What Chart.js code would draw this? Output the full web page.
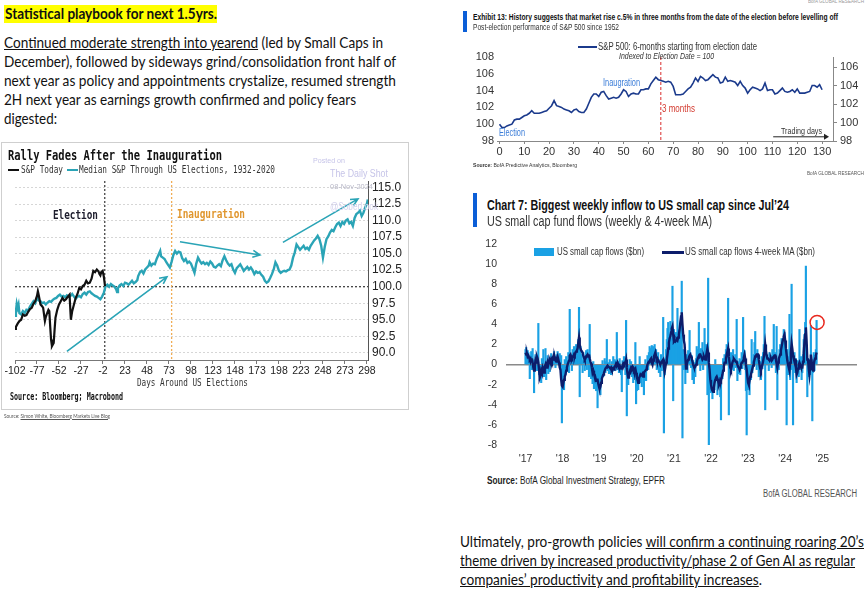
<!DOCTYPE html>
<html><head><meta charset="utf-8">
<script src="https://cdn.jsdelivr.net/npm/chart.js@4.4.1/dist/chart.umd.min.js"></script>
<style>
html,body{margin:0;padding:0;}
body{width:866px;height:605px;position:relative;background:#fff;overflow:hidden;font-family:Lato,"Open Sans",sans-serif;}
.t{position:absolute;white-space:nowrap;transform-origin:0 50%;line-height:1.15;}
canvas{position:absolute;}
.sw{position:absolute;}
</style></head><body>
<div class="sw" style="left:4px;top:5px;width:213px;height:18px;background:#ffff00"></div>
<div class="sw" style="left:1px;top:142px;width:406px;height:266px;border:1px solid #cfcfcf"></div>
<div class="sw" style="left:8px;top:169px;width:11px;height:2px;background:#111"></div>
<div class="sw" style="left:67px;top:169px;width:11px;height:2px;background:#2aa4b6"></div>
<div class="sw" style="left:463px;top:11px;width:4px;height:21px;background:#0b5ed7"></div>
<div class="sw" style="left:578px;top:46px;width:19px;height:2px;background:#1b3a8c"></div>
<div class="sw" style="left:473px;top:193px;width:4px;height:34px;background:#0b5ed7"></div>
<div class="sw" style="left:534px;top:248px;width:20px;height:8px;background:#1aa1e4"></div>
<div class="sw" style="left:662px;top:251px;width:22px;height:3px;background:#0c1d6b"></div>
<canvas id="c1" width="410" height="224" style="left:0;top:156px;width:410px;height:224px"></canvas>
<canvas id="c2" width="406" height="130" style="left:460px;top:30px;width:406px;height:130px"></canvas>
<canvas id="c3" width="406" height="245" style="left:460px;top:220px;width:406px;height:245px"></canvas>
<script>
// ---------- Chart 1: Rally Fades After the Inauguration ----------
const dayTicks = [-102,-77,-52,-27,-2,23,48,73,98,123,148,173,198,223,248,273,298];
const indexTicks = [90,92.5,95,97.5,100,102.5,105,107.5,110,112.5,115];
const todayDays = [-102,-101,-99,-97,-95,-93,-91,-89,-87,-85,-83,-81,-79,-77,-76,-75,-73,-71,-70,-68,-67,-66,-64,-63,-62,-61,-60,-58,-57,-56,-54,-52,-50,-48,-46,-44,-42,-40,-39,-38.5,-37,-35,-33,-31,-29,-27,-25,-23,-21,-19,-17,-15,-13,-11,-9,-7,-6,-5,-4,-2.4,-1,0.3];
const todayVals = [93.6,93.9,94.4,94.8,95.0,95.8,95.6,95.7,96.2,96.6,96.8,97.4,97.8,98.6,99.3,98.7,97.3,97.0,96.8,94.8,95.4,95.8,96.5,96.3,94.0,92.0,91.0,91.5,93.5,95.3,96.5,97.3,97.8,98.3,97.9,98.1,98.5,98.8,96.2,95.0,96.3,97.3,98.3,98.9,99.8,99.6,100.1,100.3,100.9,100.5,100.6,101.2,102.4,102.2,102.6,102.3,101.9,101.7,102.2,102.4,101.5,100.1];
const medianDays = [-102,-101,-100,-99,-98,-97,-95,-93,-91,-89,-87,-85,-83,-81,-79,-77,-75,-73,-71,-69,-67,-65,-63,-61,-59,-57,-55,-53,-51,-49,-47,-45,-43,-41,-39,-37,-35,-33,-31,-29,-27,-25,-23,-21,-19,-17,-15,-13,-11,-9,-7,-5,-3,-1,0,1,3,5,7,9,11,13,14,15,17,19,21,23,25,27,29,31,33,35,37,38,40,42,44,46,48,50,51,53,55,57,59,61,63,64,66,68,70,72,74,76,78,80,82,84,86,88,90,92,94,96,98,100,102,104,106,108,110,112,114,116,118,120,122,124,126,128,130,132,134,136,138,140,142,144,146,148,150,152,154,156,158,160,162,164,166,168,170,172,174,176,178,180,182,184,186,188,190,192,194,196,198,200,202,204,206,208,210,212,214,216,218,220,222,224,226,228,230,232,234,236,238,240,242,244,246,248,250,252,254,256,258,260,262,264,266,268,270,272,274,276,278,280,282,284,286,288,290,292,294,296,298,299];
const medianVals = [95.6,96.2,97.4,96.8,97.3,96.0,95.8,96.3,96.0,96.5,96.4,97.0,97.4,97.8,97.5,98.3,97.9,97.8,97.5,97.6,97.3,97.6,97.8,97.7,98.0,98.2,98.3,98.6,98.8,98.5,98.6,98.4,98.7,98.5,98.6,98.9,98.5,98.2,98.5,98.6,98.4,98.9,99.1,98.8,99.2,99.3,99.0,98.8,98.6,98.5,98.3,98.1,98.5,99.1,99.6,100.1,100.3,100.0,100.4,100.2,100.0,99.6,99.2,99.8,100.2,100.4,100.1,100.6,100.5,100.3,100.6,100.9,100.5,100.7,101.0,101.6,102.2,102.4,102.0,102.6,102.9,103.2,103.7,103.2,103.5,103.4,104.2,104.8,105.4,104.6,104.4,104.2,103.7,103.3,102.9,103.8,104.8,105.4,105.0,105.3,105.2,104.3,103.9,104.2,103.6,103.8,103.5,102.8,102.1,103.5,104.4,103.9,103.5,103.7,103.4,103.6,103.3,103.8,103.5,103.0,102.9,103.2,103.4,103.1,104.0,104.6,104.0,103.5,103.2,103.4,102.6,102.1,102.8,103.1,103.4,102.9,102.4,102.7,103.0,102.6,102.9,102.5,101.9,102.3,102.1,102.2,101.8,101.5,100.9,100.6,100.8,101.3,101.9,102.6,103.7,103.2,102.4,102.1,102.3,102.4,102.3,102.5,102.6,103.2,104.4,105.2,106.4,106.0,105.6,105.9,106.2,105.7,105.9,105.6,106.2,106.6,107.0,107.3,107.7,107.2,106.2,104.4,106.0,107.2,107.6,108.2,108.6,108.4,109.0,109.5,109.7,109.2,109.8,109.5,110.0,110.2,109.6,109.8,109.2,110.4,111.0,111.2,111.5,110.7,111.2,112.0,112.6,113.2];
const electionDay = 0, inaugurationDay = 76, baseIndex = 100;
// annotation arrows [fromDay, fromVal, toDay, toVal]
const rallyArrows = [[-43,90.2,70.7,101.5],[85.5,106.8,176.4,104.8],[202.5,106.7,287.8,113.3]];

// ---------- Chart 2: Exhibit 13 ----------
const tradingDayTicks = [0,10,20,30,40,50,60,70,80,90,100,110,120,130];
const leftTicks2 = [98,100,102,104,106,108];
const rightTicks2 = [98,100,102,104,106];
const spx6m = [100,99.6,99.6,99.8,99.9,100,100.5,100.6,100.6,100.8,101,101.1,101.3,101.6,101.3,101.3,101.3,101.4,101.5,101.6,101.9,102.2,102.8,102.2,102.1,102.0,101.8,101.7,101.6,101.4,101.7,101.8,101.5,101.4,101.4,101.8,102.5,103.2,103.6,103.6,103.3,103.8,103.9,103.4,103.0,103.1,103.2,103.1,103.2,103.6,104.1,103.9,103.3,103.6,103.7,103.6,103.6,104.1,104.1,104.2,104.2,104.8,105.2,105.6,105.3,105.2,105.1,105.0,105.1,105.0,104.5,103.5,103.5,103.5,103.6,103.9,104.2,104.4,104.9,105.5,105.1,105.7,105.5,105.2,105.3,105.6,105.9,105.6,105.5,104.9,105.0,105.6,105.1,105.2,105.1,105.0,104.6,105.1,104.6,104.3,103.7,104.1,104.4,104.3,104.2,104.0,104.2,104.9,104.0,104.1,104.1,103.6,103.7,104.0,104.3,103.9,103.8,103.9,104.1,103.8,104.2,103.7,103.7,103.7,103.8,103.9,104.6,104.6,104.4,104.7,104.1];
const threeMonthsDay = 65;

// ---------- Chart 3: US small cap fund flows ----------
const yearTicks = [2017,2018,2019,2020,2021,2022,2023,2024,2025];
const flowTicks = [-8,-6,-4,-2,0,2,4,6,8,10,12];
const flowYears = [2017,2018,2019,2020,2021,2022,2023,2024];
const flows2017 = [1.5,1.7,0.8,1.4,1.2,0.6,-1.4,0.9,1.3,-0.5,1.6,0.4,-2.8,0.5,1.0,0.3,-0.6,0.4,4.1,-1.0,-1.6,-0.3,-1.8,0.6,-0.8,1.5,-1.2,-0.4,1.6,-1.5,-0.2,0.9,-0.9,0.5,-0.7,0.6,1.1,0.4,0.8,0.2,1.3,0.5,-0.3,0.8,1.0,1.3,0.2,0.7,1.1,-0.5,0.9,-5.8];
const flows2018 = [-2.2,-1.5,-2.5,0.5,-1.0,0.8,-0.5,0.4,1.2,-0.8,5.5,0.6,1.0,-0.6,1.5,0.9,1.8,0.3,1.2,2.0,1.6,0.8,2.5,5.7,-3.2,1.8,1.0,0.4,-0.8,1.2,0.5,-0.6,0.9,1.4,-0.5,1.5,0.7,-1.2,4.0,-0.6,-1.4,-0.8,-1.9,0.3,-2.4,-1.0,-1.8,-2.6,-1.2,-4.3,-2.0,-1.5];
const flows2019 = [-2.2,-3.0,-1.5,-0.8,0.4,-1.2,-0.5,0.6,-0.8,0.3,2.5,-0.6,0.2,-0.9,0.5,-0.4,-1.0,0.3,-0.7,0.8,-0.2,0.5,-0.6,0.4,3.2,-0.5,0.3,-0.8,0.6,-0.4,-1.0,-2.7,0.4,-0.3,0.8,0.2,-1.0,4.4,-5.1,-1.5,-2.0,-0.8,0.5,-0.6,0.3,-1.2,-0.5,-1.8,-0.9,-1.5,2.2,-3.9];
const flows2020 = [-2.6,-1.0,-2.5,-1.5,0.8,-1.8,-0.6,-2.2,-1.2,-0.4,-3.0,-0.8,0.5,-1.6,-0.3,0.9,-0.5,1.2,1.8,0.6,1.6,1.9,0.4,1.8,1.2,2.0,0.9,1.5,-0.5,0.8,1.2,-0.8,0.5,-1.2,1.0,-0.6,0.4,4.7,-6.8,-1.0,0.6,1.5,2.5,3.6,4.2,2.2,3.0,4.3,2.6,1.8,7.8,-3.6];
const flows2021 = [3.5,2.4,1.8,3.2,2.0,5.6,2.8,3.5,2.2,4.0,3.8,8.3,-7.3,1.5,-0.5,0.8,-1.9,0.5,1.0,-0.8,1.4,0.6,3.4,1.2,-0.3,0.9,-1.5,0.4,-1.9,0.2,-1.2,0.6,1.8,0.5,1.5,4.2,1.0,-0.6,1.6,0.8,2.2,-0.5,1.2,3.6,0.8,2.0,1.5,-3.0,8.6,-8.1,-2.5,-1.8];
const flows2022 = [-2.8,-1.5,-3.4,-2.0,-0.8,-2.5,0.5,-1.2,-0.6,-3.0,-1.0,-2.2,-1.8,-3.2,-5.5,-0.9,-1.4,0.6,-0.4,1.0,0.4,1.5,2.0,1.2,6.6,-5.0,0.3,-0.8,1.2,-0.5,0.8,1.5,-0.6,0.4,1.0,-0.3,4.5,-1.6,0.3,-0.9,0.6,-1.0,0.5,1.2,-0.4,4.7,0.8,1.4,-0.5,-2.6,-7.0,-1.5];
const flows2023 = [-2.5,-1.0,-3.0,-0.6,-1.5,2.5,-0.8,0.4,1.0,2.2,3.3,0.6,-0.5,1.5,1.0,-1.2,-0.8,0.3,-1.5,0.8,-0.4,1.2,2.0,4.8,-4.5,1.6,0.8,1.0,0.2,-0.6,1.2,0.5,0.9,-0.3,1.5,0.6,4.0,0.3,1.2,-0.8,3.8,-3.5,0.5,-0.5,1.5,2.0,0.8,2.6,1.8,2.5,3.5,3.2];
const flows2024 = [0.5,2.0,-6.0,1.5,-1.0,0.8,5.0,-1.5,-0.5,8.0,1.0,-6.0,0.5,1.2,-0.8,0.6,-1.8,-0.6,0.4,-1.2,3.5,-0.5,0.8,-1.5,-0.8,1.0,2.5,3.0,4.2,9.8,2.0,-3.2,0.6,-1.2,-0.4,-1.0,3.9,0.5,-5.6,-0.8,1.2,-0.6,0.9,1.5,4.4];
const ma2017 = [1.2,1.0,1.1,0.8,0.9,0.7,0.5,0.6,0.3,0.6,0.2,-0.3,-0.6,-0.2,0.4,0.2,0.8,0.6,0.2,-0.5,-1.3,-1.1,-0.6,-0.8,-0.3,-0.5,-0.8,-0.2,0.0,-0.3,0.1,0.3,0.0,0.3,0.4,0.2,0.5,0.3,0.6,0.8,0.5,0.7,0.4,0.3,0.6,0.8,0.5,0.2,-0.3,-0.5,-1.5,-2.1];
const ma2018 = [-2.2,-1.8,-1.5,-1.2,-1.0,-0.6,-0.3,0.0,0.2,0.4,0.9,1.0,0.7,0.6,0.8,0.8,1.0,0.9,1.2,1.3,1.4,1.6,2.2,2.7,2.0,1.6,1.4,1.3,1.2,0.9,0.7,0.5,0.6,0.8,0.9,1.0,0.8,1.0,0.6,0.3,0.1,-0.3,-0.8,-0.6,-0.9,-1.0,-1.3,-1.6,-1.5,-1.5,-1.9,-2.2];
const ma2019 = [-2.4,-2.2,-1.8,-1.4,-1.2,-1.0,-0.8,-0.6,-0.4,-0.3,-0.2,-0.1,-0.2,-0.2,-0.3,-0.4,-0.3,-0.5,-0.4,-0.5,-0.3,-0.2,-0.1,0.1,0.0,0.2,0.0,-0.2,-0.1,-0.3,-0.4,-0.3,-0.1,0.1,0.0,0.2,0.2,0.5,-0.3,-0.9,-1.3,-1.1,-0.8,-0.5,-0.3,-0.4,-0.2,-0.3,-0.6,-0.5,-0.4,-0.8];
const ma2020 = [-1.2,-1.5,-1.8,-1.4,-1.2,-1.0,-1.1,-1.0,-0.9,-1.2,-0.8,-0.7,-0.6,-0.5,-0.3,0.0,0.2,0.3,0.3,0.5,0.6,0.2,0.0,0.4,0.8,1.0,1.2,0.8,0.5,0.6,0.4,0.3,0.2,0.0,0.2,0.3,0.4,0.5,-0.2,-0.7,-0.3,0.2,0.5,1.0,1.6,2.2,2.6,2.8,3.2,3.6,3.8,3.0];
const ma2021 = [2.3,2.4,2.3,2.4,2.5,2.4,2.7,3.0,3.5,4.2,4.8,5.2,4.0,3.0,2.4,2.0,0.8,-0.4,0.0,0.3,0.5,0.7,0.9,1.0,0.8,0.6,0.3,0.0,-0.2,-0.3,-0.2,0.0,0.2,0.5,0.7,0.9,1.0,1.0,0.8,0.7,0.5,0.6,0.8,0.6,0.5,0.8,1.2,1.6,1.2,0.2,-0.5,-1.5];
const ma2022 = [-2.0,-2.4,-2.6,-2.7,-2.3,-1.8,-1.5,-1.3,-1.2,-1.4,-1.6,-2.0,-1.8,-1.5,-1.6,-1.3,-1.0,-0.6,-0.2,0.2,0.2,0.6,1.0,1.3,1.6,0.8,0.2,-0.3,-0.5,-0.2,0.2,0.4,0.6,0.5,0.4,0.3,0.3,0.0,-0.2,-0.3,-0.5,-0.3,0.0,0.2,0.2,0.4,0.7,1.0,0.6,0.0,-0.5,-1.2];
const ma2023 = [-1.8,-2.0,-1.6,-1.2,-1.0,-0.7,-0.4,-0.1,0.2,0.5,0.8,0.9,1.0,1.0,1.0,0.5,0.0,-0.4,-0.6,-0.3,0.0,0.3,0.3,1.2,2.0,1.4,0.9,0.6,0.6,0.5,0.4,0.5,0.6,0.4,0.5,0.7,0.8,0.9,0.9,0.5,0.1,-0.3,0.2,0.6,0.8,1.0,1.4,1.8,2.2,2.5,2.8,3.0];
const ma2024 = [2.4,1.6,1.0,0.4,0.0,-0.3,-0.6,0.2,1.2,2.1,1.6,0.9,0.6,0.5,0.5,-0.3,-1.0,-0.8,-0.4,0.0,0.2,0.0,-0.2,-0.3,-0.3,0.3,1.2,2.2,3.0,3.7,2.4,0.5,0.5,-0.4,-1.0,-0.2,1.0,0.4,-0.5,-0.6,0.0,0.4,0.6,0.9,1.2];
const highlight = [2024.86, 4.2];

const flowSets = [flows2017,flows2018,flows2019,flows2020,flows2021,flows2022,flows2023,flows2024];
const maSets = [ma2017,ma2018,ma2019,ma2020,ma2021,ma2022,ma2023,ma2024];
function weekly(sets){const out=[];sets.forEach((arr,k)=>arr.forEach((v,w)=>out.push({x:flowYears[k]+w/52,y:v})));return out;}
const pairs=(xs,ys)=>xs.map((x,i)=>({x:x,y:ys[i]}));
const setTicks=list=>(a=>{a.ticks=list.map(v=>({value:v}));});

// ---------- text helper ----------
function T(html,x,yc,w,css){
  const d=document.createElement('div');d.className='t';d.style.cssText=css||'';d.innerHTML=html;
  document.body.appendChild(d);const r=d.getBoundingClientRect();
  d.style.left=x+'px';d.style.top=(yc-r.height/2)+'px';
  if(w)d.style.transform='scaleX('+(w/r.width).toFixed(4)+')';
  return d;
}
const P='font-size:15px;color:#111;';
T('<b>Statistical playbook for next 1.5yrs.</b>',5,14,212,P);
T('<u>Continued moderate strength into yearend</u> (led by Small Caps in',4,43,379,P);
T('December), followed by sideways grind/consolidation front half of',4,62,392,P);
T('next year as policy and appointments crystalize, resumed strength',4,81,392,P);
T('2H next year as earnings growth confirmed and policy fears',4,100,352,P);
T('digested:',4,119,53,P);
T('Ultimately, pro-growth policies <u>will confirm a continuing roaring 20’s</u>',460,542,404,P);
T('<u>theme driven by increased productivity/phase 2 of Gen AI as regular</u>',460,561,395,P);
T('<u>companies’ productivity and profitability increases</u>.',460,580,302,P);

const M='font-family:"DejaVu Sans Mono",monospace;';
T('Rally Fades After the Inauguration',8,155,214,M+'font-size:14px;font-weight:bold;color:#111;');
T('S&amp;P Today',21,170,42,M+'font-size:10px;color:#333;');
T('Median S&amp;P Through US Elections, 1932-2020',79,170,196,M+'font-size:10px;color:#333;');
T('Election',53,215,45,M+'font-size:13px;font-weight:bold;color:#1c1c2c;');
T('Inauguration',177,214,68,M+'font-size:13px;font-weight:bold;color:#e0962e;');
T('Days Around US Elections',137,383,111,M+'font-size:10px;color:#333;');
T('Source: Bloomberg; Macrobond',10,397,113,M+'font-size:10px;font-weight:bold;color:#111;');
T('Source: <u>Simon White, Bloomberg Markets Live Blog</u>',4,416,106,'font-size:6px;color:#555;');
const W='font-family:"Liberation Sans",Arial,sans-serif;color:#c6c4e8;';
T('Posted on',313,161,32,W+'font-size:8px;');
T('The Daily Shot',330,174,58,W+'font-size:10px;');
T('08-Nov-2024',330,187,43,W+'font-size:8px;color:#b8b8c8;');
T('@SoberLook',330,207,48,W+'font-size:10px;color:#d4d2ee;');

const N='font-family:"Liberation Sans Narrow","Liberation Sans",Arial,sans-serif;';
T('BofA GLOBAL RESEARCH',808,1,56,N+'font-size:6px;color:#999;');
T('Exhibit 13: History suggests that market rise c.5% in three months from the date of the election before levelling off',473,17,365,N+'font-size:9px;font-weight:bold;color:#111;');
T('Post-election performance of S&amp;P 500 since 1952',473,27,146,N+'font-size:9px;color:#333;');
T('S&amp;P 500: 6-months starting from election date',598,47,159,N+'font-size:10px;color:#333;');
T('Indexed to Election Date = 100',619,56,95,N+'font-size:9px;font-style:italic;color:#333;');
T('Inaugration',603,83,37,N+'font-size:10px;color:#3b7dd8;');
T('Election',499,133,26,N+'font-size:10px;color:#3b7dd8;');
T('3 months',662,109,33,N+'font-size:10px;color:#d33a2f;');
T('Trading days',781,131,41,N+'font-size:9px;color:#333;');
T('<b>Source:</b> BofA Predictive Analytics, Bloomberg',473,165,104,N+'font-size:6px;color:#333;');
T('BofA GLOBAL RESEARCH',807,173,57,N+'font-size:6px;color:#555;');

T('Chart 7: Biggest weekly inflow to US small cap since Jul’24',487,205,302,N+'font-size:15px;font-weight:bold;color:#111;');
T('US small cap fund flows (weekly &amp; 4-week MA)',487,221,225,N+'font-size:14px;color:#333;');
T('US small cap flows ($bn)',557,252,87,N+'font-size:10px;color:#333;');
T('US small cap flows 4-week MA ($bn)',685,252,130,N+'font-size:10px;color:#333;');
T('<b>Source:</b> BofA Global Investment Strategy, EPFR',487,481,178,N+'font-size:10px;color:#222;');
T('BofA GLOBAL RESEARCH',763,494,94,N+'font-size:10px;color:#555;');

// ---------- plugins ----------
function arrow(ctx,x1,y1,x2,y2,head){
  const a=Math.atan2(y2-y1,x2-x1);
  ctx.beginPath();ctx.moveTo(x1,y1);ctx.lineTo(x2,y2);
  ctx.moveTo(x2-head*Math.cos(a-0.45),y2-head*Math.sin(a-0.45));ctx.lineTo(x2,y2);
  ctx.lineTo(x2-head*Math.cos(a+0.45),y2-head*Math.sin(a+0.45));ctx.stroke();
}
const rallyPlugin={id:'rally',
  beforeDatasetsDraw(c){const {ctx,chartArea:a,scales:{x,y}}=c;ctx.save();ctx.lineWidth=1.3;ctx.setLineDash([2,2]);
    ctx.strokeStyle='#444';const yb=y.getPixelForValue(baseIndex);ctx.beginPath();ctx.moveTo(a.left,yb);ctx.lineTo(a.right,yb);ctx.stroke();
    const xe=x.getPixelForValue(electionDay);ctx.beginPath();ctx.moveTo(xe,a.top);ctx.lineTo(xe,a.bottom);ctx.stroke();
    ctx.strokeStyle='#f0ad55';const xi=x.getPixelForValue(inaugurationDay);ctx.beginPath();ctx.moveTo(xi,a.top);ctx.lineTo(xi,a.bottom);ctx.stroke();
    ctx.restore();},
  afterDatasetsDraw(c){const {ctx,scales:{x,y}}=c;ctx.save();ctx.strokeStyle='#2aa4b6';ctx.lineWidth=1.6;
    rallyArrows.forEach(r=>arrow(ctx,x.getPixelForValue(r[0]),y.getPixelForValue(r[1]),x.getPixelForValue(r[2]),y.getPixelForValue(r[3]),8));
    ctx.restore();}
};
const exPlugin={id:'ex13',
  beforeDatasetsDraw(c){const {ctx,chartArea:a,scales:{x}}=c;ctx.save();ctx.strokeStyle='#e05050';ctx.lineWidth=1.2;ctx.setLineDash([3,2]);
    const xm=x.getPixelForValue(threeMonthsDay);ctx.beginPath();ctx.moveTo(xm,a.top);ctx.lineTo(xm,a.bottom);ctx.stroke();ctx.restore();},
  afterDatasetsDraw(c){const {ctx,scales:{x,y}}=c;ctx.save();ctx.strokeStyle='#222';ctx.fillStyle='#222';ctx.lineWidth=1;
    const yy=y.getPixelForValue(98.5),x1=x.getPixelForValue(110.3),x2=x.getPixelForValue(132.8);
    ctx.beginPath();ctx.moveTo(x1,yy);ctx.lineTo(x2-4,yy);ctx.stroke();
    ctx.beginPath();ctx.moveTo(x2,yy);ctx.lineTo(x2-5,yy-3);ctx.lineTo(x2-5,yy+3);ctx.closePath();ctx.fill();ctx.restore();}
};
const circlePlugin={id:'circ',afterDatasetsDraw(c){const {ctx,scales:{x,y}}=c;ctx.save();ctx.strokeStyle='#e8281e';ctx.lineWidth=1.5;
  ctx.beginPath();ctx.arc(x.getPixelForValue(highlight[0]),y.getPixelForValue(highlight[1]),7,0,Math.PI*2);ctx.stroke();ctx.restore();}};

const base={responsive:false,maintainAspectRatio:false,animation:false,plugins:{legend:{display:false},tooltip:{enabled:false}}};
// place the plot area where the reference has it (canvas coordinates)
function calibrate(ch,want,xs){
  for(let i=0;i<8;i++){
    const a=ch.chartArea,p=ch.options.layout.padding;
    const dt=want.top-a.top,db=want.bottom-a.bottom,dl=want.left-a.left,dr=want.right-a.right;
    if(Math.abs(dt)+Math.abs(db)+Math.abs(dl)+Math.abs(dr)<0.2)break;
    p.top+=dt;p.left+=dl;p.right-=dr;xs.h-=db;
    ch.update('none');
  }
}

const x1s={h:20},x2s={h:19},x3s={h:20};
const lf=v=>({family:'"Liberation Sans",Arial,sans-serif',size:v,lineHeight:0.8});
const c1=new Chart(document.getElementById('c1'),{type:'line',
  data:{datasets:[
    {data:pairs(todayDays,todayVals),borderColor:'#111',borderWidth:2.2,pointRadius:0,order:0},
    {data:pairs(medianDays,medianVals),borderColor:'#2aa4b6',borderWidth:2.4,pointRadius:0,order:1}]},
  options:{...base,layout:{padding:{left:15,top:25,right:0,bottom:0}},
    scales:{
      x:{type:'linear',min:-102,max:299.2,afterBuildTicks:setTicks(dayTicks),afterFit:s=>{s.height=x1s.h;},
        grid:{drawOnChartArea:false,drawTicks:true,tickLength:4,color:'#777'},border:{display:true,color:'#777'},
        ticks:{padding:3,maxRotation:0,autoSkip:false,color:'#222',font:lf(10.5)}},
      y:{position:'right',min:88.9,max:116,afterBuildTicks:setTicks(indexTicks),afterFit:s=>{s.width=42;},
        grid:{color:'#d6d6d6',drawTicks:false},border:{display:true,color:'#555',dash:[2,2]},
        ticks:{padding:4,color:'#222',font:lf(12),callback:v=>Number(v).toFixed(1)}}}},
  plugins:[rallyPlugin]});
calibrate(c1,{left:15,top:25,right:368,bottom:204},x1s);

const nf=v=>({family:'"Liberation Sans Narrow","Liberation Sans",Arial,sans-serif',size:v,lineHeight:0.8});
const c2=new Chart(document.getElementById('c2'),{type:'line',
  data:{datasets:[{data:spx6m.map((v,i)=>({x:i,y:v})),borderColor:'#1b3a8c',borderWidth:1.6,pointRadius:0,yAxisID:'y'}]},
  options:{...base,layout:{padding:{left:0,top:27,right:0,bottom:0}},
    scales:{
      x:{type:'linear',min:-1,max:134.4,afterBuildTicks:setTicks(tradingDayTicks),afterFit:s=>{s.height=x2s.h;},
        grid:{drawOnChartArea:false,drawTicks:true,tickLength:3,color:'#888'},border:{display:true,color:'#888'},
        ticks:{padding:4,maxRotation:0,autoSkip:false,color:'#333',font:nf(11)}},
      y:{position:'left',min:98,max:108,afterBuildTicks:setTicks(leftTicks2),afterFit:s=>{s.width=37;},
        grid:{display:false,drawTicks:false},border:{display:false},ticks:{padding:3,color:'#333',font:nf(11)}},
      y2:{position:'right',min:98,max:107.1,afterBuildTicks:setTicks(rightTicks2),afterFit:s=>{s.width=33;},
        grid:{drawOnChartArea:false,drawTicks:true,tickLength:4,color:'#888'},border:{display:true,color:'#888'},
        ticks:{padding:3,color:'#333',font:nf(11)}}}},
  plugins:[exPlugin]});
calibrate(c2,{left:37,top:27,right:373,bottom:111},x2s);

const c3=new Chart(document.getElementById('c3'),{type:'bar',
  data:{datasets:[
    {type:'line',data:weekly(maSets),borderColor:'#0c1d6b',borderWidth:2.4,pointRadius:0,order:0},
    {type:'bar',data:weekly(flowSets),backgroundColor:'#1aa1e4',barThickness:1.5,order:1}]},
  options:{...base,layout:{padding:{left:0,top:24,right:9,bottom:0}},
    scales:{
      x:{type:'linear',min:2017,max:2025.41,afterBuildTicks:setTicks(yearTicks),afterFit:s=>{s.height=x3s.h;},
        grid:{display:false,drawTicks:false},border:{display:false},
        ticks:{padding:10,maxRotation:0,autoSkip:false,color:'#333',font:nf(10.5),callback:v=>"'"+String(v).slice(2)}},
      y:{min:-8,max:12,afterBuildTicks:setTicks(flowTicks),afterFit:s=>{s.width=46;},
        grid:{drawTicks:false,color:c=>(c.tick&&c.tick.value===0)?'#8a8a8a':'rgba(0,0,0,0)',lineWidth:1.5},border:{display:false},
        ticks:{padding:9,color:'#333',font:nf(10.5)}}}},
  plugins:[circlePlugin]});
calibrate(c3,{left:46,top:24,right:397,bottom:225},x3s);
</script>
</body></html>
